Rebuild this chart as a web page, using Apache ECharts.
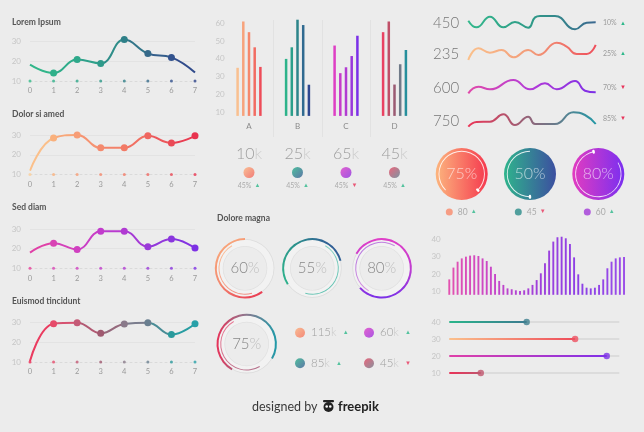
<!DOCTYPE html>
<html><head><meta charset="utf-8">
<script src="https://cdn.jsdelivr.net/npm/echarts@6/dist/echarts.min.js"></script>
<style>html,body{margin:0;padding:0;background:#ececec}#c{width:644px;height:432px}</style>
</head><body><div id="c"></div>
<script>
// ---------------- DATA ----------------
const lineX = ['0','1','2','3','4','5','6','7'];
const lineTitles = ['Lorem Ipsum','Dolor si amed','Sed diam','Euismod tincidunt'];
const lineLorem   = [18.2, 14, 20.7, 18.8, 30.7, 23.7, 21.8, 14.2];
const lineDolor   = [12, 28.5, 30, 23.5, 23.5, 29.6, 26, 29.6];
const lineSed     = [18, 22.8, 19.6, 28.8, 28.8, 21, 24.9, 20.3];
const lineEuismod = [10.5, 29.5, 30, 24.6, 29.3, 30, 24, 29.5];

const barCats = ['A','B','C','D'];
const barGroupA = [35, 61, 55, 46.5, 35.5];
const barGroupB = [40, 46.5, 62, 59, 25.5];
const barGroupC = [47.5, 32, 35.3, 41.6, 53];
const barGroupD = [55, 61, 25.6, 37, 45];
const barYTicks = [10, 20, 30, 40, 50, 60];
const kpiValues = ['10', '25', '65', '45'];
const kpiPct = ['45%', '45%', '45%', '45%'];
const kpiUp = [true, true, false, true];

const sparkLabels = ['450', '235', '600', '750'];
const sparkPct = ['10%', '25%', '70%', '85%'];
const sparkUp = [true, true, false, false];
const spark1X = [0, 6.5, 17, 27.5, 36.6, 47, 52.4, 56.3, 68, 83.8, 92.9, 100];
const spark1Y = [28, 8, 40, 8, 24, 7, 38, 42, 42, 2, 22, 23];
const spark2X = [0, 7.9, 17, 26.2, 35.3, 47, 55, 69.4, 77.2, 85.1, 92.9, 100];
const spark2Y = [10, 45, 32, 40, 18, 40, 25, 62, 50, 28, 28, 55];
const spark3X = [0, 7.9, 17, 35.3, 48.4, 60.2, 69.4, 83.8, 91.6, 100];
const spark3Y = [10, 30, 22, 50, 22, 40, 22, 47, 18, 13];
const spark4X = [0, 6.5, 17, 27.5, 36.6, 47, 52.4, 68, 82.5, 91.6, 100];
const spark4Y = [10, 24, 25, 47, 15, 40, 18, 18, 53, 45, 18];

const bigPct = [75, 50, 80];
const bigLegendVals = ['80', '45', '60'];
const bigLegendUp = [true, false, true];

const ringPct = [60, 55, 80, 75];
const ringLegendVals = ['115', '60', '85', '45'];
const ringLegendUp = [true, true, true, false];

const denseBars = [16.9, 23.7, 27.1, 29, 30, 30.6, 30.8, 30.4, 29, 27.5, 24.2, 20, 16, 13.7, 11.7, 11.2, 10.6, 10.2, 10.6, 11.7, 13.7, 16.5, 20.4, 26.2, 33.5, 38.7, 41.2, 41.5, 40.6, 37.3, 29.6, 19.8, 14.4, 12.1, 11.7, 12.1, 13.7, 16.9, 23.3, 27.1, 29, 29.6, 29.8];
const denseYTicks = [10, 20, 30, 40];
const sliderCats = ['10', '20', '30', '40'];
const sliderVals = [18.5, 92.6, 74, 45.5];

// ---------------- BUILD ----------------
const F = 'Lato, "Open Sans", sans-serif';
const grids = [], xAxes = [], yAxes = [], series = [], visualMaps = [], graphics = [];
function lg(x0, y0, x1, y1, cols) {
  return new echarts.graphic.LinearGradient(x0, y0, x1, y1,
    cols.map((c, i) => ({ offset: cols.length === 1 ? 0 : i / (cols.length - 1), color: c })));
}
const UP = '#2db88a', DN = '#e8335a';
const triRich = { up: { color: UP, fontSize: 6, padding: [0, 0, 1, 0] }, dn: { color: DN, fontSize: 6, padding: [0, 0, 1, 0] } };
function addGrid(g) { grids.push(g); return grids.length - 1; }

// ---- left line charts ----
const lineData = [lineLorem, lineDolor, lineSed, lineEuismod];
const lineTops = [41, 135, 229, 322.7];
const lineHeights = [40, 39.5, 39.3, 39.3];
const titleYs = [22, 114, 207.7, 301.7];
const lineNoSym = [[0, 7], [0], [0], [0]];
const lineColors = [
  ['#35bb8a', '#2fb08a', '#2ea88a', '#2e9a8a', '#2f8088', '#366a8a', '#33538e', '#2e4488'],
  ['#fcd09a', '#f9b07c', '#f79d76', '#f48a6e', '#f27a66', '#ef6660', '#ea4a56', '#e8334f'],
  ['#e8409a', '#d843b4', '#d040c0', '#c23ccc', '#b03ad2', '#9a3ad8', '#8a36de', '#7d30e4'],
  ['#ee2c55', '#e64a6a', '#c45a76', '#a05a70', '#8a7a8a', '#6a7f90', '#2a9a9c', '#28a0a8']
];
lineData.forEach((d, i) => {
  const gi = addGrid({ left: 30, top: lineTops[i], width: 165, height: lineHeights[i] });
  xAxes.push({ gridIndex: gi, type: 'category', data: lineX, boundaryGap: false,
    axisLine: { show: true, lineStyle: { color: '#dadada', type: [2, 3], width: 1 } },
    axisTick: { show: false }, splitLine: { show: false },
    axisLabel: { color: '#9a9a9a', fontSize: 7.5, margin: 6, fontFamily: F } });
  yAxes.push({ gridIndex: gi, type: 'value', min: 10, max: 30, interval: 10,
    axisLine: { show: false }, axisTick: { show: false },
    axisLabel: { color: '#c6c6c6', fontSize: 8, margin: 9, fontFamily: F },
    splitLine: { show: true, lineStyle: { color: ['transparent', '#e3e3e3', '#e3e3e3'], width: 1 } } });
  const sL = series.length;
  series.push({ type: 'line', xAxisIndex: gi, yAxisIndex: gi, smooth: 0.45, symbol: 'circle', symbolSize: 7,
    clip: false, silent: true, z: 3, lineStyle: { width: 2 },
    data: d.map((v, j) => lineNoSym[i].includes(j) ? { value: v, symbol: 'none' } : v) });
  series.push({ type: 'scatter', xAxisIndex: gi, yAxisIndex: gi, symbolSize: 3, silent: true, z: 2,
    data: lineX.map(() => 10) });
  visualMaps.push({ type: 'continuous', show: false, dimension: 0, min: 0, max: 7,
    seriesIndex: [sL, sL + 1], inRange: { color: lineColors[i] } });
  graphics.push({ type: 'text', style: { text: lineTitles[i], x: 12, y: titleYs[i], verticalAlign: 'middle',
    fill: '#555', font: 'bold 8.5px ' + F } });
});

// ---- middle bar chart ----
const barGroups = [barGroupA, barGroupB, barGroupC, barGroupD];
const barColors = [
  ['#f9c090', '#f7a37c', '#f5886c', '#f26c62', '#ee4c58'],
  ['#2db38a', '#2a9f8a', '#2c858a', '#306a90', '#2f4890'],
  ['#de3fc4', '#c63cca', '#b23cd2', '#9a38db', '#7b30e8'],
  ['#ea4262', '#c05068', '#9a5a72', '#707a88', '#268f9c']
];
const gB = addGrid({ left: 224.75, top: 19.7, width: 194, height: 96.2 });
xAxes.push({ gridIndex: gB, type: 'category', data: barCats, axisLine: { show: false }, axisTick: { show: false },
  axisLabel: { color: '#8a8a8a', fontSize: 8, margin: 7, fontFamily: F }, splitLine: { show: false } });
yAxes.push({ gridIndex: gB, type: 'value', min: 8, max: 62, axisLine: { show: false }, axisTick: { show: false },
  splitLine: { show: false }, axisLabel: { customValues: barYTicks, color: '#c6c6c6', fontSize: 8, margin: 0, fontFamily: F } });
for (let k = 0; k < 5; k++) {
  series.push({ type: 'bar', xAxisIndex: gB, yAxisIndex: gB, barWidth: 2.5, barGap: '128%', silent: true,
    data: barGroups.map((g, gi) => ({ value: g[k], itemStyle: { color: barColors[gi][k] } })) });
}
// separators
const gS = addGrid({ left: 224.75, top: 20, width: 194, height: 117 });
xAxes.push({ gridIndex: gS, type: 'category', data: barCats, axisLine: { show: false }, axisTick: { show: false },
  axisLabel: { show: false },
  splitLine: { show: true, lineStyle: { color: ['transparent', '#e2e2e2', '#e2e2e2', '#e2e2e2', 'transparent'] } } });
yAxes.push({ gridIndex: gS, type: 'value', min: 0, max: 1, show: false });
// KPIs
const kpiDot = [['#fdb480', '#f2605a'], ['#26b38a', '#3a5a95'], ['#e03ec8', '#8a2fe0'], ['#ec4560', '#607f90']];
const gK = addGrid({ left: 224.75, top: 150, width: 194, height: 30 });
xAxes.push({ gridIndex: gK, type: 'category', data: barCats, show: false });
yAxes.push({ gridIndex: gK, type: 'value', min: 0, max: 1, show: false });
series.push({ type: 'scatter', xAxisIndex: gK, yAxisIndex: gK, symbolSize: 11, silent: true,
  data: barCats.map((c, i) => ({ value: [i, 0.25], itemStyle: { color: lg(0, 0, 1, 1, kpiDot[i]) } })),
  label: { show: true, position: 'top', distance: 5,
    formatter: p => '{n|' + kpiValues[p.dataIndex] + '}{k|k}',
    rich: { n: { fontSize: 16, color: '#8a8a8a', fontWeight: 300, fontFamily: F },
            k: { fontSize: 16, color: '#c4c4c4', fontWeight: 300, fontFamily: F } } } });
series.push({ type: 'scatter', xAxisIndex: gK, yAxisIndex: gK, symbolSize: 11, silent: true,
  itemStyle: { color: 'transparent' },
  data: barCats.map((c, i) => [i, 0.25]),
  label: { show: true, position: 'bottom', distance: 2,
    formatter: p => '{p|' + kpiPct[p.dataIndex] + '} ' + (kpiUp[p.dataIndex] ? '{up|▲}' : '{dn|▼}'),
    rich: Object.assign({ p: { fontSize: 7, color: '#9a9a9a', fontFamily: F } }, triRich) } });

// ---- sparklines ----
const sparkX = [spark1X, spark2X, spark3X, spark4X];
const sparkY = [spark1Y, spark2Y, spark3Y, spark4Y];
const sparkTops = [10, 43.3, 76.7, 110];
const sparkCols = [
  ['#33b98c', '#2f9a88', '#3b6690'],
  ['#fbc28c', '#f29a78', '#ee4c5a'],
  ['#e24aa8', '#b23ad8', '#7a2fe6'],
  ['#ee3356', '#b0566e', '#6a7a8a', '#1f99a6']
];
const sparkLabelY = [23.3, 54.3, 88.3, 120.7];
const sparkPctY = [23, 53.7, 87.7, 118.7];
sparkX.forEach((xs, i) => {
  const g = addGrid({ left: 468.3, top: sparkTops[i], width: 127.4, height: 20 });
  xAxes.push({ gridIndex: g, type: 'value', min: 0, max: 100, show: false });
  yAxes.push({ gridIndex: g, type: 'value', min: 0, max: 60, show: false });
  series.push({ type: 'line', xAxisIndex: g, yAxisIndex: g, smooth: 0.5, symbol: 'none', clip: false, silent: true,
    lineStyle: { width: 2, color: lg(0, 0, 1, 0, sparkCols[i]) },
    data: xs.map((x, j) => [x, sparkY[i][j]]) });
  graphics.push({ type: 'text', style: { text: sparkLabels[i], x: 433, y: sparkLabelY[i], verticalAlign: 'middle',
    fill: '#777', font: '300 15px ' + F } });
  graphics.push({ type: 'text', style: { text: '{p|' + sparkPct[i] + '} ' + (sparkUp[i] ? '{up|▲}' : '{dn|▼}'),
    x: 603, y: sparkPctY[i], verticalAlign: 'middle',
    rich: Object.assign({ p: { fontSize: 7, fill: '#9a9a9a', fontFamily: F } },
      { up: { fill: UP, fontSize: 6 }, dn: { fill: DN, fontSize: 6 } }) } });
});

// ---- big filled circles ----
const bigCenters = [[461.7, 174], [530, 174], [598.3, 174]];
const bigCols = [['#fcb57e', '#f5384e'], ['#2fb48c', '#3c4fa0'], ['#e23cc0', '#7a2ff0']];
const bigArcStart = [225, 270, 30];
const pieBase = { type: 'pie', silent: true, label: { show: false }, labelLine: { show: false },
  emphasis: { disabled: true }, avoidLabelOverlap: false };
bigPct.forEach((p, i) => {
  series.push(Object.assign({}, pieBase, { center: bigCenters[i], radius: [0, 26],
    data: [{ value: 1, itemStyle: { color: lg(0, 0, 1, 0, bigCols[i]) } }],
    label: { show: true, position: 'center', formatter: p + '%', color: 'rgba(255,255,255,0.62)',
      fontSize: 16, fontWeight: 300, fontFamily: F } }));
  series.push(Object.assign({}, pieBase, { center: bigCenters[i], radius: [22.3, 23.2], startAngle: bigArcStart[i],
    data: [{ value: p, itemStyle: { color: 'rgba(255,255,255,0.85)' } }, { value: 100 - p, itemStyle: { color: 'transparent' } }] }));
  const endA = bigArcStart[i] - (i === 1 ? 0 : p * 3.6);
  series.push(Object.assign({}, pieBase, { center: bigCenters[i], radius: [20.8, 24.7], startAngle: endA + 3,
    data: [{ value: 1.7, itemStyle: { color: '#ffffff', borderRadius: 3 } }, { value: 98.3, itemStyle: { color: 'transparent' } }] }));
});
const gL = addGrid({ left: 414.8, top: 202, width: 207, height: 20 });
xAxes.push({ gridIndex: gL, type: 'category', data: bigLegendVals, show: false });
yAxes.push({ gridIndex: gL, type: 'category', data: ['a'], show: false });
const bigDot = ['#f98a6a', '#2a8c8a', '#a23ad8'];
series.push({ type: 'scatter', xAxisIndex: gL, yAxisIndex: gL, symbolSize: 7, silent: true,
  data: bigLegendVals.map((v, i) => ({ value: [i, 0], itemStyle: { color: bigDot[i] } })),
  label: { show: true, position: 'right', distance: 5,
    formatter: p => '{n|' + bigLegendVals[p.dataIndex] + '} ' + (bigLegendUp[p.dataIndex] ? '{up|▲}' : '{dn|▼}'),
    rich: Object.assign({ n: { fontSize: 8.5, color: '#9a9a9a', fontFamily: F } }, triRich) } });

// ---- Dolore magna rings ----
graphics.push({ type: 'text', style: { text: 'Dolore magna', x: 217, y: 218.3, verticalAlign: 'middle',
  fill: '#555', font: 'bold 8.5px ' + F } });
const ringCenters = [[245, 268.3], [312.3, 268.3], [381.7, 268.3], [246.7, 344]];
const ringOuter = [
  { start: 90, cw: false, grad: [0, 0, 1, 1], cols: ['#fbb07e', '#f38a70', '#e8334f'] },
  { start: 15, cw: false, grad: [1, 0, 0, 1], cols: ['#34479a', '#2b8f8c', '#2fb58c'] },
  { start: 150, cw: true, grad: [0, 0, 0, 1], cols: ['#e040c8', '#c03cd0', '#7a30e8'] },
  { start: -30, cw: false, grad: [1, 0, 0, 0], cols: ['#1e9aa8', '#8a7a90', '#e8335a'] }
];
const ringInner = [
  { start: 120, cw: false, span: 46, cols: ['#fcc49a', '#f08a80'] },
  { start: 60, cw: true, span: 46, cols: ['#8ad6c6', '#5fc0b0'] },
  { start: -120, cw: true, span: 50, cols: ['#b070e0', '#e8a8e0'] },
  { start: 120, cw: false, span: 50, cols: ['#f07a96', '#b0708a'] }
];
ringPct.forEach((p, i) => {
  const c = ringCenters[i], o = ringOuter[i], n = ringInner[i];
  series.push(Object.assign({}, pieBase, { center: c, radius: [22, 29], data: [{ value: 1, itemStyle: { color: '#f2f2f2' } }],
    label: { show: true, position: 'center', formatter: '{n|' + p + '}{p|%}',
      rich: { n: { fontSize: 15, color: '#888', fontWeight: 300, fontFamily: F },
              p: { fontSize: 15, color: '#bdbdbd', fontWeight: 300, fontFamily: F } } } }));
  series.push(Object.assign({}, pieBase, { center: c, radius: [28.6, 29.4], data: [{ value: 1, itemStyle: { color: '#dcdcdc' } }] }));
  series.push(Object.assign({}, pieBase, { center: c, radius: [21.6, 22.3], data: [{ value: 1, itemStyle: { color: '#e0e0e0' } }] }));
  series.push(Object.assign({}, pieBase, { center: c, radius: [28.2, 30.2], startAngle: o.start, clockwise: o.cw,
    data: [{ value: p, itemStyle: { color: lg(o.grad[0], o.grad[1], o.grad[2], o.grad[3], o.cols) } },
           { value: 100 - p, itemStyle: { color: 'transparent' } }] }));
  series.push(Object.assign({}, pieBase, { center: c, radius: [25.5, 26.5], startAngle: n.start, clockwise: n.cw,
    data: [{ value: n.span, itemStyle: { color: lg(0, 0, 1, 1, n.cols) } },
           { value: 100 - n.span, itemStyle: { color: 'transparent' } }] }));
});
const gR = addGrid({ left: 265.5, top: 317.4, width: 138, height: 61.2 });
xAxes.push({ gridIndex: gR, type: 'category', data: ['c0', 'c1'], show: false });
yAxes.push({ gridIndex: gR, type: 'category', data: ['r0', 'r1'], inverse: true, show: false });
const ringDot = [['#fcb07e', '#f5705a'], ['#e040c8', '#9a30e0'], ['#2ab38a', '#3a5a95'], ['#e84560', '#707a8a']];
series.push({ type: 'scatter', xAxisIndex: gR, yAxisIndex: gR, symbolSize: 10, silent: true,
  data: ringLegendVals.map((v, i) => ({ value: [i % 2, Math.floor(i / 2)], itemStyle: { color: lg(0, 0, 1, 1, ringDot[i]) } })),
  label: { show: true, position: 'right', distance: 6,
    formatter: p => '{n|' + ringLegendVals[p.dataIndex] + '}{k|k}  ' + (ringLegendUp[p.dataIndex] ? '{up|▲}' : '{dn|▼}'),
    rich: Object.assign({ n: { fontSize: 11.5, color: '#8a8a8a', fontWeight: 300, fontFamily: F },
                          k: { fontSize: 11.5, color: '#c0c0c0', fontWeight: 300, fontFamily: F } }, triRich) } });

// ---- dense bars ----
const gD = addGrid({ left: 447.2, top: 232.4, width: 178.9, height: 62.4 });
xAxes.push({ gridIndex: gD, type: 'category', data: denseBars.map((v, i) => i), show: false });
yAxes.push({ gridIndex: gD, type: 'value', min: 8, max: 44, axisLine: { show: false }, axisTick: { show: false },
  splitLine: { show: false }, axisLabel: { customValues: denseYTicks, color: '#c6c6c6', fontSize: 8, margin: 6.5, fontFamily: F } });
const sDense = series.length;
series.push({ type: 'bar', xAxisIndex: gD, yAxisIndex: gD, barWidth: 1.9, silent: true, data: denseBars });
visualMaps.push({ type: 'continuous', show: false, dimension: 0, min: 0, max: denseBars.length - 1,
  seriesIndex: sDense, inRange: { color: ['#e352b0', '#c846c8', '#a040da', '#8c40e6', '#9a4ce8'] } });

// ---- sliders ----
const gSl = addGrid({ left: 449.3, top: 313.5, width: 170, height: 68 });
xAxes.push({ gridIndex: gSl, type: 'value', min: 0, max: 100, show: false });
yAxes.push({ gridIndex: gSl, type: 'category', data: sliderCats, axisLine: { show: false }, axisTick: { show: false },
  axisLabel: { color: '#c6c6c6', fontSize: 8, margin: 8.6, fontFamily: F } });
const sliderCols = [['#ea3358', '#c0566e'], ['#e040a8', '#8030e8'], ['#fbc08c', '#ee4c5a'], ['#2ab58a', '#3b7a90']];
const knobCols = ['#c0566e', '#7d32e6', '#ee5060', '#3f7f8f'];
series.push({ type: 'bar', xAxisIndex: gSl, yAxisIndex: gSl, barWidth: 2, silent: true,
  showBackground: true, backgroundStyle: { color: '#dcdcdc' },
  data: sliderVals.map((v, i) => ({ value: v, itemStyle: { color: lg(0, 0, 1, 0, sliderCols[i]) } })) });
series.push({ type: 'scatter', xAxisIndex: gSl, yAxisIndex: gSl, symbolSize: 6.5, silent: true, z: 5,
  data: sliderVals.map((v, i) => ({ value: [v, i], itemStyle: { color: knobCols[i] } })) });

// ---- footer ----
graphics.push({ type: 'text', style: { text: 'designed by', x: 252, y: 406.5, verticalAlign: 'middle',
  fill: '#3a3a3a', font: '12.5px ' + F } });
graphics.push({ type: 'group', children: [
  { type: 'circle', shape: { cx: 328.5, cy: 407, r: 5 }, style: { fill: '#222' } },
  { type: 'rect', shape: { x: 323, y: 400, width: 11, height: 2.2, r: 1 }, style: { fill: '#222' } },
  { type: 'circle', shape: { cx: 326.7, cy: 406.5, r: 1.3 }, style: { fill: '#fff' } },
  { type: 'circle', shape: { cx: 330.3, cy: 406.5, r: 1.3 }, style: { fill: '#fff' } }
] });
graphics.push({ type: 'text', style: { text: 'freepik', x: 338, y: 406.5, verticalAlign: 'middle',
  fill: '#222', font: 'bold 13px ' + F } });

const chart = echarts.init(document.getElementById('c'), null, { renderer: 'canvas' });
chart.setOption({
  backgroundColor: '#ececec', animation: false, textStyle: { fontFamily: F },
  grid: grids, xAxis: xAxes, yAxis: yAxes, series: series, visualMap: visualMaps, graphic: graphics
});
</script></body></html>
